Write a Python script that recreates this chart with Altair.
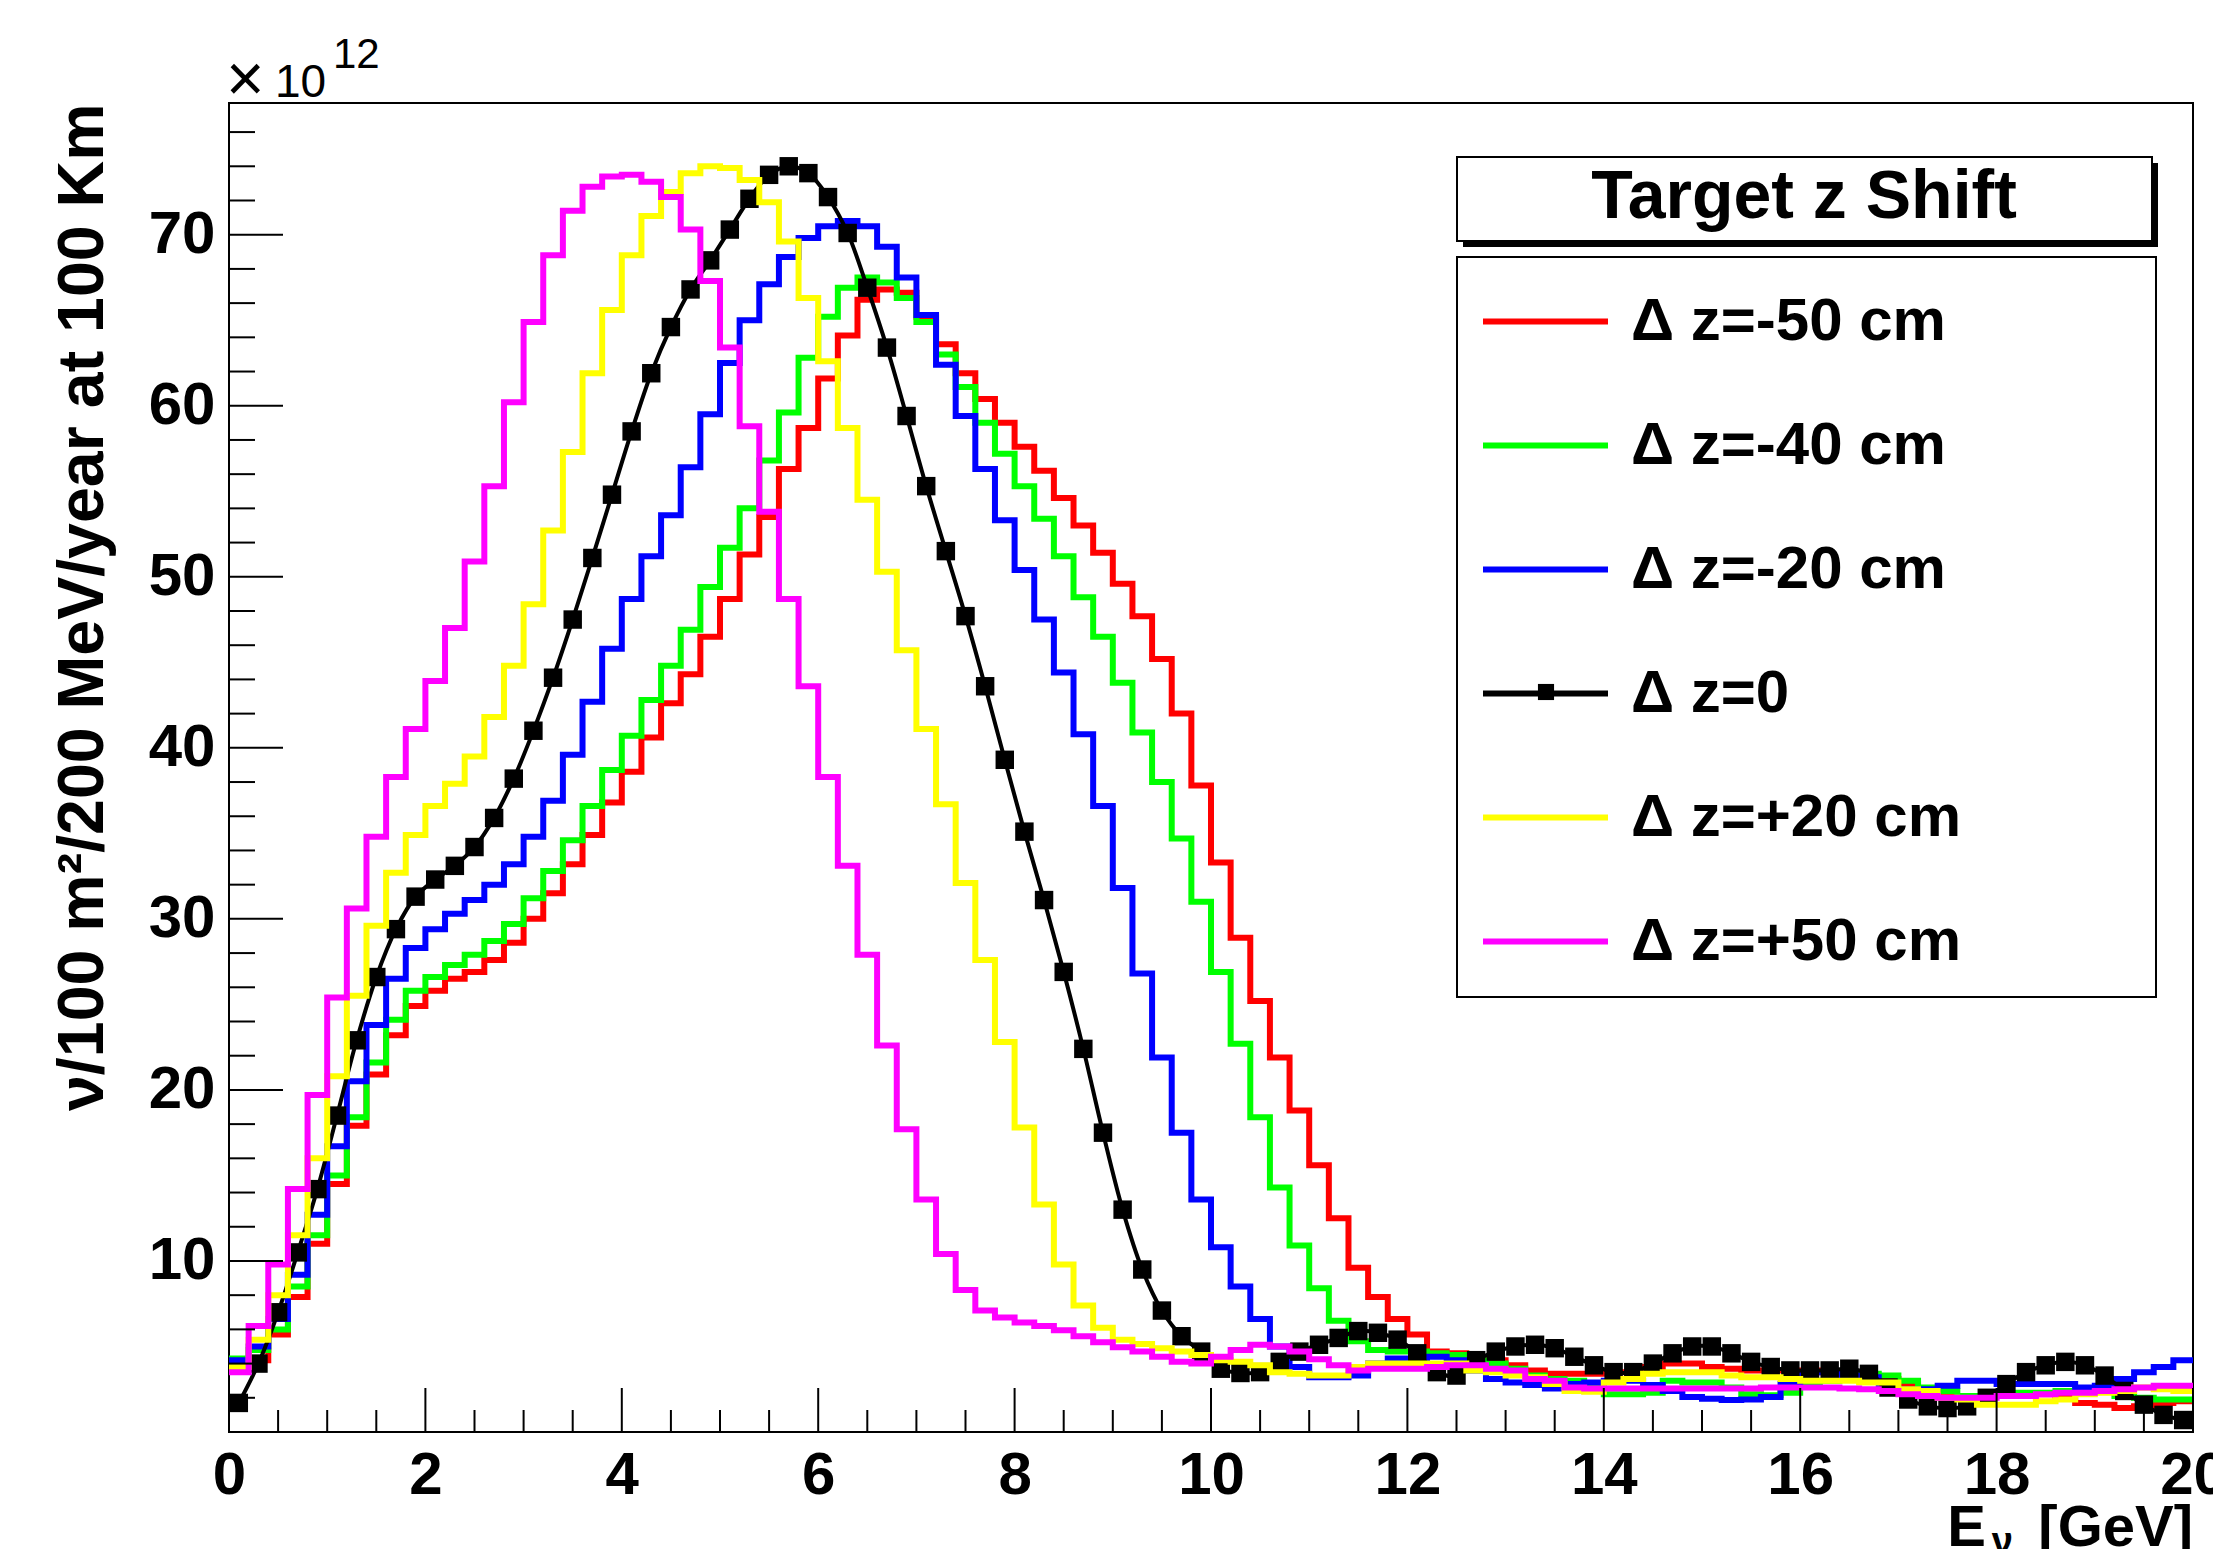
import altair as alt
import pandas as pd
import numpy as np

FONT = "Liberation Sans"

names = ["Δ z=-50 cm", "Δ z=-40 cm", "Δ z=-20 cm", "Δ z=0", "Δ z=+20 cm", "Δ z=+50 cm"]
colors = ["#ff0000", "#00ff00", "#0000ff", "#000000", "#ffff00", "#ff00ff"]

# values in units of 1e12, one per 0.2 GeV bin (0..20 GeV)
dz_m50 = [4.0, 4.2, 5.7, 7.9, 11.0, 14.5, 17.9, 20.9, 23.2, 24.9,
          25.8, 26.5, 26.9, 27.6, 28.6, 30.0, 31.5, 33.2, 34.9, 36.8,
          38.6, 40.6, 42.6, 44.3, 46.5, 48.7, 51.3, 53.5, 56.3, 58.7,
          61.6, 64.1, 66.2, 66.8, 66.6, 65.2, 63.6, 61.9, 60.4, 59.0,
          57.6, 56.2, 54.6, 53.0, 51.4, 49.6, 47.7, 45.2, 42.0, 37.8,
          33.3, 28.9, 25.2, 21.9, 18.8, 15.6, 12.5, 9.6, 7.9, 6.6,
          5.7, 4.7, 4.6, 4.3, 4.2, 3.9, 3.6, 3.4, 3.4, 3.4,
          3.5, 3.5, 3.8, 4.0, 4.0, 3.8, 3.7, 3.6, 3.6, 3.6,
          3.6, 3.5, 3.3, 3.2, 3.1, 2.8, 2.5, 2.1, 2.0, 2.1,
          2.2, 2.2, 2.2, 2.1, 1.7, 1.6, 1.4, 1.5, 1.7, 1.8]
dz_m40 = [4.3, 4.8, 6.0, 8.5, 11.5, 15.0, 18.4, 21.6, 24.1, 25.8,
          26.6, 27.3, 27.9, 28.7, 29.7, 31.2, 32.8, 34.6, 36.6, 38.7,
          40.7, 42.8, 44.8, 46.9, 49.4, 51.7, 54.0, 56.8, 59.6, 62.8,
          65.2, 66.9, 67.5, 67.2, 66.3, 64.9, 63.0, 61.1, 59.0, 57.2,
          55.3, 53.4, 51.2, 48.8, 46.5, 43.8, 40.9, 38.0, 34.7, 31.0,
          26.9, 22.7, 18.4, 14.3, 10.9, 8.4, 6.5, 5.3, 4.8, 4.7,
          4.7, 4.6, 4.5, 4.2, 4.0, 3.7, 3.3, 3.1, 3.0, 2.6,
          2.2, 2.2, 2.3, 3.0, 2.9, 2.9, 2.6, 2.2, 2.15, 2.3,
          2.7, 3.0, 3.3, 3.4, 3.3, 3.0, 2.6, 2.4, 2.1, 2.1,
          2.2, 2.3, 2.3, 2.4, 2.5, 2.5, 2.1, 2.0, 1.9, 1.9]
dz_m20 = [4.2, 5.0, 6.6, 9.2, 12.7, 16.7, 20.5, 23.8, 26.5, 28.3,
          29.4, 30.3, 31.1, 32.0, 33.2, 34.8, 36.9, 39.6, 42.7, 45.8,
          48.7, 51.2, 53.6, 56.4, 59.5, 62.5, 65.0, 67.1, 68.7, 69.8,
          70.5, 70.8, 70.5, 69.3, 67.5, 65.3, 62.4, 59.4, 56.3, 53.3,
          50.4, 47.5, 44.4, 40.8, 36.6, 31.8, 26.8, 21.9, 17.5, 13.6,
          10.8, 8.5, 6.6, 5.0, 3.8, 3.2, 3.2, 3.3, 4.0, 4.3,
          4.3, 4.4, 4.2, 3.6, 3.1, 2.9, 2.75, 2.55, 2.8, 2.9,
          3.0, 3.0, 2.75, 2.4, 2.05, 1.95, 1.87, 1.9, 2.05, 2.8,
          3.5, 3.5, 3.3, 3.2, 2.6, 2.5, 2.5, 2.7, 3.0, 3.0,
          2.8, 2.8, 2.8, 2.8, 2.6, 2.7, 3.1, 3.5, 3.8, 4.2]
dz_0 = [1.7, 4.0, 7.0, 10.5, 14.2, 18.5, 22.9, 26.6, 29.4, 31.3,
        32.3, 33.1, 34.2, 35.9, 38.2, 41.0, 44.1, 47.5, 51.1, 54.8,
        58.5, 61.9, 64.6, 66.8, 68.5, 70.3, 72.1, 73.5, 74.0, 73.6,
        72.2, 70.1, 66.9, 63.4, 59.4, 55.3, 51.5, 47.7, 43.6, 39.3,
        35.1, 31.1, 26.9, 22.4, 17.5, 13.0, 9.5, 7.1, 5.6, 4.7,
        3.7, 3.45, 3.5, 4.1, 4.7, 5.1, 5.5, 5.9, 5.8, 5.4,
        4.6, 3.5, 3.3, 4.2, 4.7, 5.0, 5.1, 4.9, 4.4, 3.9,
        3.5, 3.5, 4.0, 4.6, 5.0, 5.0, 4.6, 4.1, 3.8, 3.6,
        3.6, 3.6, 3.7, 3.4, 2.6, 1.9, 1.5, 1.4, 1.5, 2.0,
        2.8, 3.5, 3.9, 4.1, 3.9, 3.3, 2.4, 1.6, 1.0, 0.7]
dz_p20 = [3.8, 5.4, 8.0, 11.5, 16.0, 20.8, 25.5, 29.6, 32.7, 34.9,
          36.6, 37.9, 39.5, 41.8, 44.8, 48.4, 52.7, 57.3, 61.9, 65.6,
          68.8, 71.1, 72.5, 73.6, 74.0, 73.9, 73.2, 71.9, 69.6, 66.3,
          62.6, 58.7, 54.5, 50.3, 45.7, 41.1, 36.7, 32.1, 27.6, 22.8,
          17.8, 13.3, 9.8, 7.4, 6.1, 5.4, 5.15, 4.9, 4.7, 4.5,
          4.2, 4.1, 3.9, 3.5, 3.4, 3.3, 3.3, 3.8, 4.0, 4.0,
          4.0, 4.0, 4.0, 3.6, 3.5, 3.3, 3.2, 2.8, 2.4, 2.35,
          2.9, 3.1, 3.4, 3.5, 3.5, 3.5, 3.3, 3.2, 3.2, 3.1,
          3.0, 3.0, 3.0, 2.9, 2.9, 2.5, 2.4, 2.0, 1.9, 1.6,
          1.6, 1.6, 1.8, 1.9, 2.2, 2.3, 2.4, 2.6, 2.5, 2.4]
dz_p50 = [3.5, 6.2, 9.8, 14.2, 19.7, 25.4, 30.6, 34.8, 38.3, 41.1,
          43.9, 47.0, 50.9, 55.3, 60.2, 64.9, 68.8, 71.4, 72.8, 73.4,
          73.5, 73.1, 72.2, 70.3, 67.3, 63.4, 58.8, 53.8, 48.7, 43.6,
          38.3, 33.1, 27.9, 22.6, 17.7, 13.6, 10.4, 8.3, 7.1, 6.7,
          6.4, 6.2, 5.95, 5.6, 5.25, 4.95, 4.7, 4.4, 4.1, 4.0,
          4.4, 4.8, 5.1, 5.0, 4.7, 4.25, 3.9, 3.6, 3.7, 3.7,
          3.7, 3.8, 3.9, 3.9, 3.7, 3.6, 3.1, 3.0, 2.6, 2.55,
          2.55, 2.55, 2.55, 2.55, 2.55, 2.55, 2.55, 2.55, 2.6, 2.6,
          2.6, 2.6, 2.55, 2.5, 2.4, 2.2, 2.1, 2.0, 2.0, 2.0,
          2.1, 2.1, 2.2, 2.3, 2.3, 2.4, 2.5, 2.6, 2.7, 2.7]

series = [dz_m50, dz_m40, dz_m20, dz_0, dz_p20, dz_p50]

x_tick_labels = [0, 2, 4, 6, 8, 10, 12, 14, 16, 18, 20]
y_tick_labels = [10, 20, 30, 40, 50, 60, 70]

XMAX = 20.0
YMAX = 77.7
BIN = 0.2
W, H = 1964, 1329

rows = []
for name, vals in zip(names, series):
    if name == "Δ z=0":
        for i, v in enumerate(vals):
            rows.append({"series": name, "x": round(i * BIN + BIN / 2, 3), "v": v})
    else:
        for i, v in enumerate(vals):
            rows.append({"series": name, "x": round(i * BIN, 3), "v": v})
        rows.append({"series": name, "x": XMAX, "v": vals[-1]})
df = pd.DataFrame(rows)

xs = alt.Scale(domain=[0, XMAX], nice=False, zero=False)
ys = alt.Scale(domain=[0, YMAX], nice=False, zero=False)

xaxis = alt.Axis(values=x_tick_labels, format="d", labelFont=FONT, labelFontWeight="bold",
                 labelFontSize=60, labelColor="black", labelPadding=14, labelFlush=False,
                 labelOverlap=False, labelBound=False, ticks=False, tickSize=0, domain=False,
                 grid=False, title=None)
yaxis = alt.Axis(values=y_tick_labels, format="d", labelFont=FONT, labelFontWeight="bold",
                 labelFontSize=60, labelColor="black", labelPadding=14, labelFlush=False,
                 labelOverlap=False, labelBound=False, ticks=False, tickSize=0, domain=False,
                 grid=False, title="ν/100 m²/200 MeV/year at 100 Km", titleFont=FONT,
                 titleFontSize=64.5, titleFontWeight="bold", titleColor="black", titleAngle=270,
                 titleAlign="right", titleBaseline="alphabetic", titleX=-127, titleY=0)


def X(f="x"):
    return alt.X(f"{f}:Q", scale=xs, axis=xaxis)


def Y(f="v"):
    return alt.Y(f"{f}:Q", scale=ys, axis=yaxis)


legend = alt.Legend(orient="none", legendX=1228, legendY=153, title=None,
                    strokeColor="transparent", fillColor="transparent", padding=0,
                    symbolType="stroke", symbolSize=15625, symbolStrokeWidth=6,
                    symbolOffset=23, labelOffset=20, labelFont=FONT, labelFontSize=60,
                    labelFontWeight="bold", labelColor="black", labelLimit=2000,
                    rowPadding=28)
color = alt.Color("series:N", scale=alt.Scale(domain=names, range=colors), legend=legend)

base = alt.Chart(df)


def step_layer(name):
    return base.transform_filter(alt.datum.series == name).mark_line(
        interpolate="step-after", strokeWidth=6, strokeJoin="miter", strokeCap="butt"
    ).encode(x=X(), y=Y(), color=color)


black_line = base.transform_filter(alt.datum.series == names[3]).mark_line(
    interpolate="catmull-rom", strokeWidth=4
).encode(x=X(), y=Y(), color=color)
black_pts = base.transform_filter(alt.datum.series == names[3]).mark_point(
    shape="square", filled=True, size=340, color="black", opacity=1
).encode(x=X(), y=Y())

# inward ROOT-style ticks
xt_major = pd.DataFrame({"x": x_tick_labels})
xt_minor = pd.DataFrame({"x": [v for v in np.arange(0.5, XMAX, 0.5) if abs(v % 2) > 1e-9]})
yt_major = pd.DataFrame({"v": y_tick_labels})
yt_minor = pd.DataFrame({"v": [v for v in range(2, 77, 2) if v % 10 != 0]})

x_major = alt.Chart(xt_major).mark_rule(color="black", strokeWidth=2).encode(
    x=X(), y=alt.value(H), y2=alt.value(H - 44))
x_minor = alt.Chart(xt_minor).mark_rule(color="black", strokeWidth=2).encode(
    x=X(), y=alt.value(H), y2=alt.value(H - 22))
y_major = alt.Chart(yt_major).mark_rule(color="black", strokeWidth=2).encode(
    y=Y(), x=alt.value(0), x2=alt.value(54))
y_minor = alt.Chart(yt_minor).mark_rule(color="black", strokeWidth=2).encode(
    y=Y(), x=alt.value(0), x2=alt.value(26))

one = pd.DataFrame({"k": [0]})


def text(t, x, y, size, weight="normal", align="left", baseline="alphabetic"):
    return alt.Chart(one).mark_text(text=t, font=FONT, fontSize=size, fontWeight=weight,
                                    align=align, baseline=baseline, color="black").encode(
        x=alt.value(x), y=alt.value(y))


exp_times = text("×", -3, -22, 66, baseline="middle")
exp_ten = text("10", 46, -6, 46)
exp_sup = text("12", 104, -35, 42)

shadow = alt.Chart(one).mark_rect(color="black").encode(
    x=alt.value(1234), x2=alt.value(1929), y=alt.value(60), y2=alt.value(144))
header_box = alt.Chart(one).mark_rect(fill="white", stroke="black", strokeWidth=2).encode(
    x=alt.value(1228), x2=alt.value(1923), y=alt.value(54), y2=alt.value(138))
header_txt = text("Target z Shift", 1575, 115, 68, weight="bold", align="center")

legend_box = alt.Chart(one).mark_rect(fill="white", stroke="black", strokeWidth=2).encode(
    x=alt.value(1228), x2=alt.value(1927), y=alt.value(154), y2=alt.value(894))
legend_marker = alt.Chart(one).mark_square(color="black", size=260, opacity=1).encode(
    x=alt.value(1317), y=alt.value(589))

xt_gev = text("[GeV]", W, 1443, 58, weight="bold", align="right")
xt_nu = text("ν", 1784, 1451, 38, weight="bold", align="right")
xt_e = text("E", 1757, 1443, 58, weight="bold", align="right")

layers = [
    step_layer(names[0]), step_layer(names[1]), step_layer(names[2]),
    black_line, black_pts,
    step_layer(names[4]), step_layer(names[5]),
    x_major, x_minor, y_major, y_minor,
    exp_times, exp_ten, exp_sup, shadow, header_box, header_txt,
    legend_box, legend_marker,
    xt_e, xt_nu, xt_gev,
]

chart = alt.layer(*layers).properties(
    width=W, height=H,
    padding={"left": 221, "top": 95, "right": 20, "bottom": 117},
    autosize=alt.AutoSizeParams(type="none"),
    background="white",
).configure_view(stroke="black", strokeWidth=2)

chart.save("out.html", embed_options={"renderer": "svg", "actions": False})
